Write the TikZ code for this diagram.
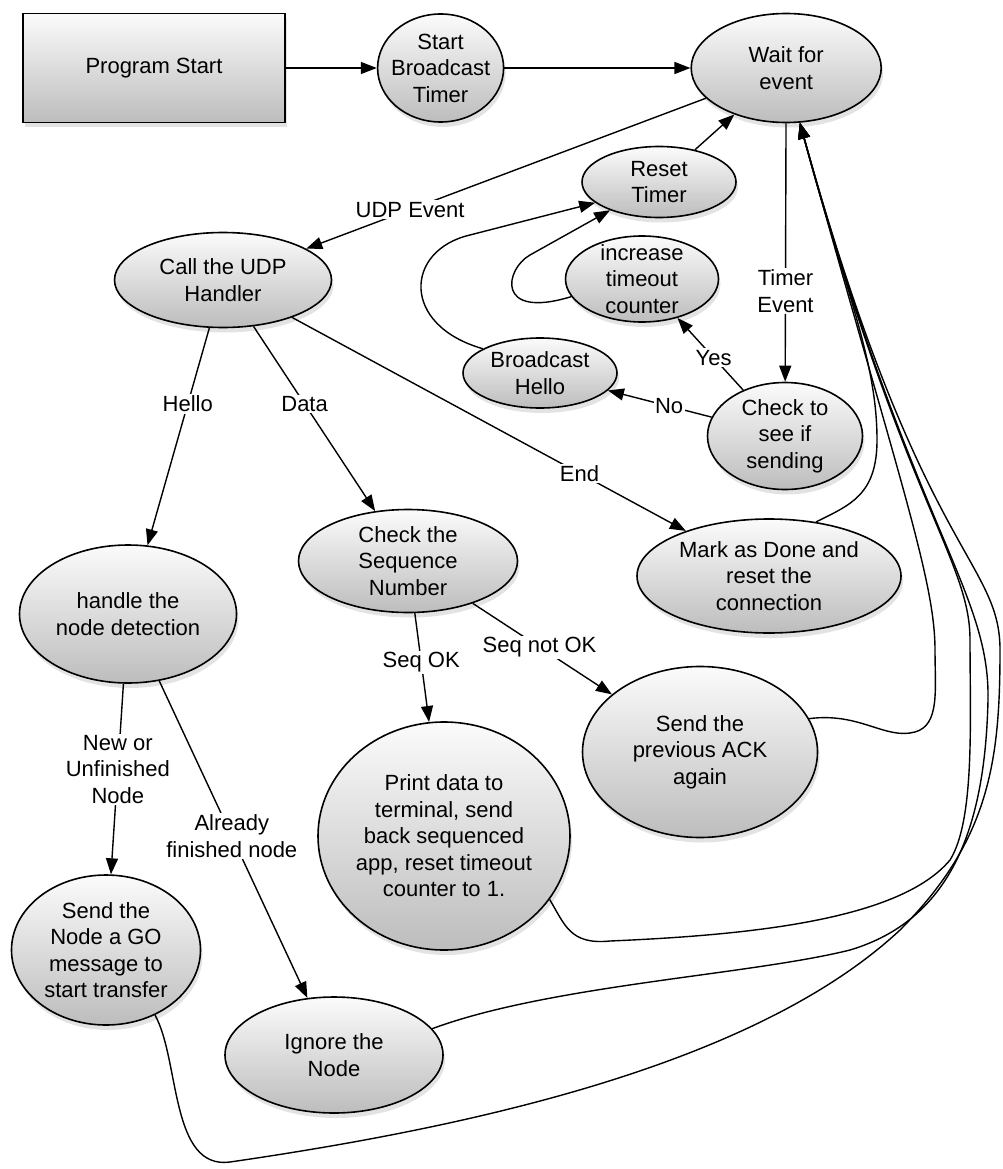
\documentclass[tikz,border=0pt]{standalone}
\usepackage{fontspec}
\setmainfont{Liberation Sans}
\usetikzlibrary{positioning,arrows.meta,shapes.geometric,shadows}
\tikzset{
  stt/.style={ellipse,draw,line width=1.6pt,top color=gray!3,bottom color=gray!52,
    drop shadow={shadow xshift=2pt,shadow yshift=-5pt,opacity=0.22},
    align=center,inner xsep=-5pt,inner ysep=-5pt,font=\fontsize{22}{26.5}\selectfont},
  box/.style={rectangle,draw,line width=1.6pt,top color=gray!3,bottom color=gray!52,
    drop shadow={shadow xshift=2pt,shadow yshift=-5pt,opacity=0.22},
    minimum width=262pt,minimum height=109pt,font=\fontsize{22}{26.5}\selectfont},
  arr/.style={-{Triangle[length=16pt,width=12pt]},line width=1.4pt},
  lbl/.style={fill=white,inner sep=1.5pt,align=center,font=\fontsize{22}{26.5}\selectfont},
}
\begin{document}
\begin{tikzpicture}[x=1pt,y=-1pt]
  \useasboundingbox (0,0) rectangle (1003,1169);
  % top row
  \node[box] (prog) at (154,68) {Program Start};
  \node[stt,minimum width=126pt,minimum height=108pt,right=91pt of prog] (sbt) {Start\\Broadcast\\Timer};
  \node[stt,minimum width=190pt,minimum height=109pt,right=186pt of sbt] (wait) {Wait for\\event};
  % timer branch
  \node[stt,minimum width=154pt,minimum height=71pt] (reset) at (659,182) {Reset\\Timer};
  \node[stt,minimum width=153pt,minimum height=86pt,inner ysep=-14pt] (incr) at (642,279) {increase\\timeout\\counter};
  \node[stt,minimum width=154pt,minimum height=70pt] (bhello) at (540,373) {Broadcast\\Hello};
  \node[stt,minimum width=155pt,minimum height=107pt] (chk) at (785,436) {Check to\\see if\\sending};
  % udp branch
  \node[stt,minimum width=217pt,minimum height=95pt] (udp) at (223,280) {Call the UDP\\Handler};
  \node[stt,minimum width=217pt,minimum height=138pt] (detect) at (128,614) {handle the\\node detection};
  \node[stt,minimum width=219pt,minimum height=103pt] (seq) at (408,561) {Check the\\Sequence\\Number};
  \node[stt,minimum width=264pt,minimum height=114pt] (done) at (769,576) {Mark as Done and\\reset the\\connection};
  \node[stt,minimum width=235pt,minimum height=171pt] (ack) at (700,752) {Send the\\previous ACK\\again};
  \node[stt,minimum width=252pt,minimum height=228pt] (print) at (444,836) {Print data to\\terminal, send\\back sequenced\\app, reset timeout\\counter to 1.};
  \node[stt,minimum width=189pt,minimum height=150pt] (go) at (106,950) {Send the\\Node a GO\\message to\\start transfer};
  \node[stt,minimum width=218pt,minimum height=116pt] (ignore) at (334,1055) {Ignore the\\Node};

  \draw[arr] (prog) -- (sbt);
  \draw[arr] (sbt) -- (wait);
  \draw[arr] (wait) -- node[lbl,pos=0.74] {UDP Event} (udp);
  \draw[arr] (reset) -- (wait);
  \draw[arr] (wait) -- node[lbl,pos=0.65] {Timer\\Event} (chk);
  \draw[arr] (chk) -- node[lbl,pos=0.45] {Yes} (incr);
  \draw[arr] (chk) -- node[lbl,pos=0.41] {No} (bhello);
  \draw[arr] (incr.194) .. controls (495,320) and (505,269) .. (530,255) -- (reset.210);
  \draw[arr] (bhello.157) .. controls (400,325) and (405,250) .. (470,235) -- (reset.198);
  \draw[arr] (udp) -- node[lbl,pos=0.35] {Hello} (detect);
  \draw[arr] (udp) -- node[lbl,pos=0.42] {Data} (seq);
  \draw[arr] (udp) -- node[lbl,pos=0.73] {End} (done);
  \draw[arr] (detect) -- node[lbl,pos=0.45] {New or\\Unfinished\\Node} (go);
  \draw[arr] (detect) -- node[lbl,pos=0.49] {Already\\finished node} (ignore);
  \draw[arr] (seq) -- node[lbl,pos=0.45] {Seq OK} (print);
  \draw[arr] (seq) -- node[lbl,pos=0.48] {Seq not OK} (ack);
  % back to waiting
  \draw[arr] (done.49) .. controls (850,505) and (877,495) .. (877,440)
    .. controls (877,360) and (845,290) .. (wait.-76);
  \draw[arr] (ack.17) .. controls (860,712) and (885,740) .. (915,732)
    .. controls (940,725) and (935,690) .. (935,650)
    .. controls (935,580) and (899,480) .. (wait.-76);
  \draw[arr] (print.-31) .. controls (565,925) and (570,945) .. (610,941)
    .. controls (750,935) and (900,920) .. (950,860)
    .. controls (975,820) and (970,720) .. (970,640)
    .. controls (970,560) and (905,505) .. (wait.-76);
  \draw[arr] (ignore.15) .. controls (550,985) and (750,975) .. (850,950)
    .. controls (950,920) and (985,830) .. (988,700)
    .. controls (990,590) and (913,530) .. (wait.-76);
  \draw[arr] (go.-53) .. controls (180,1060) and (170,1170) .. (230,1162)
    .. controls (450,1130) and (750,1070) .. (900,930)
    .. controls (990,840) and (1000,760) .. (1000,650)
    .. controls (1000,560) and (920,555) .. (wait.-76);
\end{tikzpicture}
\end{document}
